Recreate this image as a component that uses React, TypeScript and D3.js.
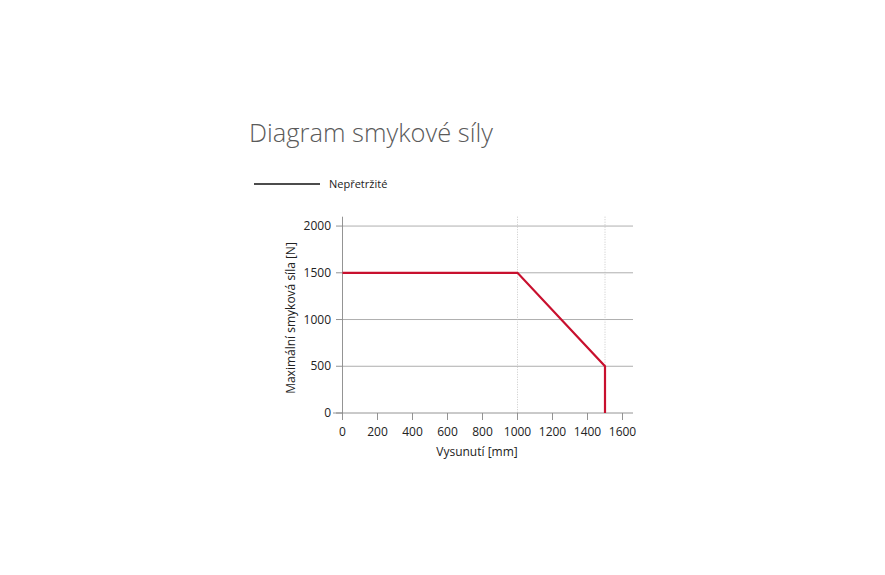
import React, { useEffect, useRef } from "react";
import * as d3 from "d3";

const xTicks = [0, 200, 400, 600, 800, 1000, 1200, 1400, 1600];
const yTicks = [0, 500, 1000, 1500, 2000];
const xGrid = [1000, 1500];
const seriesX = [0, 1000, 1500, 1500];
const seriesY = [1500, 1500, 500, 0];
const seriesName = "Nepřetržité";
const title = "Diagram smykové síly";
const xLabel = "Vysunutí [mm]";
const yLabel = "Maximální smyková síla [N]";

export default function App() {
  const ref = useRef<SVGSVGElement>(null);
  useEffect(() => {
    const svg = d3.select(ref.current);
    svg.selectAll("*").remove();
    const font = "'Open Sans', sans-serif";
    const x = d3.scaleLinear().domain([0, 1660]).range([342.5, 633]);
    const y = d3.scaleLinear().domain([0, 2100]).range([413, 216.7]);

    svg.append("text").attr("x", 249).attr("y", 142).attr("font-family", font)
      .attr("font-weight", 300).attr("font-size", 26.5).attr("fill", "#5a5a5a")
      .attr("textLength", 244).attr("lengthAdjust", "spacingAndGlyphs").text(title);

    svg.append("line").attr("x1", 254).attr("x2", 320).attr("y1", 184).attr("y2", 184)
      .attr("stroke", "#111").attr("stroke-width", 1.5);
    svg.append("text").attr("x", 329).attr("y", 188).attr("font-family", font)
      .attr("font-size", 11).attr("fill", "#222").text(seriesName);

    const g = svg.append("g");
    g.selectAll("line.hg").data(yTicks.filter(d => d > 0)).join("line")
      .attr("x1", x(0)).attr("x2", x(1660)).attr("y1", d => y(d)).attr("y2", d => y(d))
      .attr("stroke", "#999").attr("stroke-width", 0.8);
    g.selectAll("line.vg").data(xGrid).join("line")
      .attr("x1", d => x(d)).attr("x2", d => x(d)).attr("y1", y(2100)).attr("y2", y(0))
      .attr("stroke", "#bbb").attr("stroke-width", 0.8).attr("stroke-dasharray", "1,1.5");
    g.append("line").attr("x1", x(0)).attr("x2", x(0)).attr("y1", y(2100)).attr("y2", y(0))
      .attr("stroke", "#888").attr("stroke-width", 0.9);
    g.append("line").attr("x1", 333).attr("x2", x(1660)).attr("y1", y(0)).attr("y2", y(0))
      .attr("stroke", "#888").attr("stroke-width", 0.9);
    g.selectAll("line.yt").data(yTicks).join("line")
      .attr("x1", 336).attr("x2", x(0)).attr("y1", d => y(d)).attr("y2", d => y(d))
      .attr("stroke", "#888").attr("stroke-width", 0.9);
    g.selectAll("text.yl").data(yTicks).join("text")
      .attr("x", 331).attr("y", d => y(d) + 4).attr("text-anchor", "end")
      .attr("font-family", font).attr("font-size", 12).attr("fill", "#222").text(d => String(d));
    g.selectAll("line.xt").data(xTicks).join("line")
      .attr("x1", d => x(d)).attr("x2", d => x(d)).attr("y1", y(0)).attr("y2", y(0) + 7)
      .attr("stroke", "#888").attr("stroke-width", 0.9);
    g.selectAll("text.xl").data(xTicks).join("text")
      .attr("x", d => x(d)).attr("y", 436).attr("text-anchor", "middle")
      .attr("font-family", font).attr("font-size", 12).attr("fill", "#222").text(d => String(d));
    svg.append("text").attr("x", 477).attr("y", 456).attr("text-anchor", "middle")
      .attr("font-family", font).attr("font-size", 12).attr("fill", "#222").text(xLabel);
    svg.append("text").attr("transform", `translate(295,318) rotate(-90)`)
      .attr("text-anchor", "middle").attr("font-family", font).attr("font-size", 12)
      .attr("fill", "#222").text(yLabel);

    const pts = seriesX.map((v, i) => [v, seriesY[i]] as [number, number]);
    const line = d3.line<[number, number]>().x(d => x(d[0])).y(d => y(d[1]));
    svg.append("path").attr("d", line(pts)).attr("fill", "none")
      .attr("stroke", "#c8102e").attr("stroke-width", 2.2).attr("stroke-linejoin", "miter");
  }, []);
  return (
    <svg ref={ref} width={885} height={575}
      style={{ position: "absolute", left: 0, top: 0, background: "#fff" }} />
  );
}
